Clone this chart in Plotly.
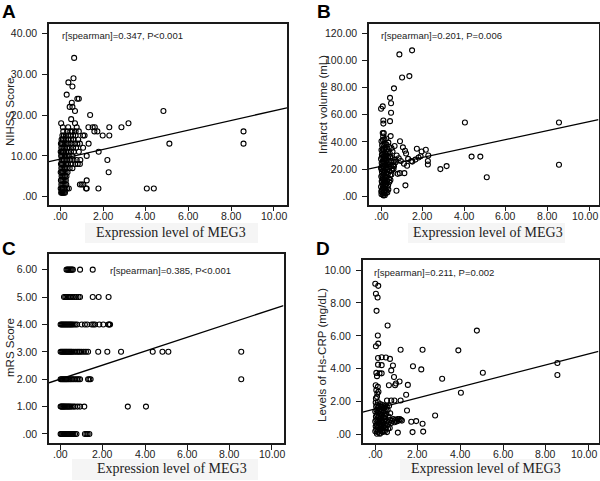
import plotly.graph_objects as go

# ---------------- Panel A: NIHSS score vs MEG3 ----------------
A_levels = [1, 2, 3, 4, 5, 6, 7, 8, 9, 10, 11, 12, 13, 14, 15, 16, 17, 18, 19, 20, 21, 22, 23, 24, 25, 27, 28, 29, 34]
A_expr = [
    [0.02, 0.06, 0.1, 0.15, 0.2],
    [0.0, 0.05, 0.1, 0.16, 0.22, 0.3, 0.38, 1.19, 1.22, 1.77, 4.04, 4.37],
    [0.03, 0.08, 0.13, 0.19, 0.26, 0.9, 0.98, 1.06],
    [0.01, 0.07, 0.12, 0.18, 0.24, 1.22],
    [0.04, 0.09, 0.14, 0.2, 0.27],
    [0.0, 0.06, 0.11, 0.17, 0.23, 0.32, 2.25],
    [0.03, 0.08, 0.14, 0.2, 0.28, 0.42, 0.55],
    [0.01, 0.06, 0.12, 0.18, 0.25, 0.34, 0.5, 0.68, 0.8, 0.9],
    [0.04, 0.09, 0.15, 0.22, 0.3, 0.45, 0.6, 0.75, 0.92, 2.19],
    [0.02, 0.07, 0.13, 0.2, 0.28, 0.38, 0.55, 1.22],
    [0.0, 0.05, 0.1, 0.16, 0.24, 0.33, 0.48, 0.62, 0.85, 1.78],
    [0.03, 0.08, 0.14, 0.21, 0.3, 0.42, 0.58, 0.72, 1.05],
    [0.01, 0.06, 0.12, 0.19, 0.27, 0.36, 0.5, 0.65, 0.78, 0.9, 1.31, 5.1, 8.58],
    [0.04, 0.1, 0.17, 0.25, 0.35, 0.48, 0.6, 0.82],
    [0.08, 0.15, 0.24, 0.34, 0.46, 0.58, 0.7, 1.05, 1.12, 1.97, 2.28],
    [0.12, 0.3, 0.45, 0.55, 0.7, 0.85, 1.58, 1.72, 8.58],
    [0.1, 0.35, 0.75, 1.3, 1.5, 1.6, 2.28, 2.85],
    [0.02, 0.67, 3.18],
    [0.49],
    [1.38],
    [0.67, 4.82],
    [0.42, 0.55],
    [0.52],
    [0.78, 0.85],
    [0.28],
    [0.55],
    [0.36],
    [0.6],
    [0.63],
]
A_fit = (9.25, 1.18)  # intercept, slope
A_text = "r[spearman]=0.347, P<0.001"

# ---------------- Panel B: Infarct volume vs MEG3 ----------------
B_x = [0.02, 0.06, 0.1, 0.14, 0.18, 0.22, 0.26, 0.04, 0.09, 0.15,
       0.0, 0.2, 0.28, 0.07, 0.12, 0.17, 0.24, 0.34, 0.03, 0.09,
       0.15, 0.21, 0.29, 0.38, 0.01, 0.06, 0.12, 0.18, 0.25, 0.33,
       0.44, 0.04, 0.1, 0.16, 0.22, 0.3, 0.4, 0.52, 0.0, 0.07,
       0.13, 0.19, 0.27, 0.36, 0.47, 0.58, 0.03, 0.09, 0.15, 0.21,
       0.28, 0.37, 0.48, 0.6, 0.0, 0.06, 0.12, 0.18, 0.25, 0.33,
       0.43, 0.55, 0.04, 0.1, 0.17, 0.24, 0.32, 0.42, 0.02, 0.08,
       0.14, 0.2, 0.28, 0.38, 0.5, 0.05, 0.11, 0.18, 0.26, 0.35,
       0.02, 0.09, 0.16, 0.25, 0.08, 0.13, 0.1, 0.01, 0.11, 0.05,
       0.2, 0.08, 0.14, 0.02, 0.23, 0.31, 0.11, 0.16, 0.21, 0.07,
       0.3, 0.35, 0.4, 0.45, 0.5, 0.55, 0.62, 0.68, 0.12, 0.19,
       1.49, 0.88, 1.01, 1.36, 0.62, 0.43, 0.48, 0.08, 0.0, 0.48,
       0.11, 0.11, 0.43, 4.03, 8.55, 8.55, 5.08, 4.77, 4.35, 3.15,
       2.85, 2.25, 2.25, 2.15, 2.27, 1.72, 1.95, 1.8, 1.65, 1.45,
       1.3, 1.5, 0.91, 1.2, 1.12, 1.17, 0.74, 0.8, 0.9, 0.46,
       1.9, 1.15, 1.05, 0.95, 1.1, 1.25, 0.75, 0.7, 0.65, 0.6,
       0.55, 0.85]
B_y = [1.5, 2.5, 1.0, 3.0, 0.8, 2.2, 4.0, 4.5, 5.5, 6.0,
       7.0, 7.5, 6.5, 8.5, 9.5, 10.0, 9.0, 8.0, 11.0, 12.5,
       12.0, 13.5, 11.5, 13.0, 14.5, 15.5, 16.0, 15.0, 17.0, 16.5,
       15.5, 18.0, 19.0, 18.5, 20.0, 19.5, 18.5, 19.0, 21.0, 22.0,
       21.5, 23.0, 22.5, 23.5, 22.0, 23.0, 24.5, 25.5, 26.0, 25.0,
       26.5, 25.5, 26.0, 25.5, 27.5, 28.5, 29.0, 28.0, 29.5, 28.5,
       29.0, 28.0, 30.5, 31.5, 32.0, 31.0, 32.5, 31.5, 34.0, 35.0,
       34.5, 36.0, 35.0, 36.5, 35.5, 37.5, 38.5, 39.0, 38.0, 39.5,
       40.5, 41.5, 42.0, 42.5, 46.5, 46.5, 44.0, 3.5, 6.8, 10.2,
       4.5, 13.8, 17.4, 19.8, 14.2, 21.2, 23.8, 27.2, 30.2, 32.8,
       2.8, 5.0, 10.5, 12.0, 16.0, 20.5, 22.0, 27.0, 0.5, 11.2,
       107.5, 104.5, 87.5, 88.5, 79.5, 72.5, 68.5, 66.2, 64.5, 61.5,
       55.8, 53.5, 55.3, 54.3, 54.3, 23.2, 14.0, 29.2, 29.2, 22.2,
       20.0, 23.4, 26.0, 34.2, 30.0, 35.0, 33.0, 28.5, 27.0, 26.0,
       27.5, 25.5, 40.5, 31.5, 17.0, 8.0, 4.0, 16.5, 17.0, 44.3,
       29.5, 33.5, 36.0, 26.0, 24.0, 22.5, 30.0, 25.0, 37.0, 20.0,
       33.0, 28.0]
B_fit = (22.1, 3.28)
B_text = "r[spearman]=0.201, P=0.006"

# ---------------- Panel C: mRS score vs MEG3 ----------------
C_levels = [0, 1, 2, 3, 4, 5, 6]
C_expr = [
    [0.0, 0.04, 0.08, 0.12, 0.16, 0.2, 0.25, 0.3, 0.35, 0.4, 0.45, 0.5, 0.55, 0.6, 0.68, 0.75, 1.15, 1.22, 1.28, 1.36],
    [0.0, 0.04, 0.08, 0.12, 0.16, 0.2, 0.25, 0.3, 0.35, 0.4, 0.45, 0.52, 0.6, 0.68, 0.8, 0.92, 1.12, 3.18, 4.04],
    [0.0, 0.05, 0.1, 0.15, 0.2, 0.25, 0.3, 0.36, 0.42, 0.48, 0.55, 0.62, 0.7, 0.78, 0.85, 0.92, 1.3, 1.36, 1.42, 8.55],
    [0.0, 0.05, 0.1, 0.15, 0.2, 0.25, 0.3, 0.35, 0.4, 0.45, 0.5, 0.55, 0.62, 0.7, 0.78, 0.85, 0.92, 1.0, 1.1, 1.2,
     1.3, 1.78, 2.21, 2.86, 4.36, 4.82, 5.1, 8.55],
    [0.0, 0.05, 0.1, 0.15, 0.2, 0.25, 0.3, 0.35, 0.4, 0.45, 0.5, 0.55, 0.62, 0.7, 0.78, 1.0, 1.15, 1.26, 1.47, 1.55,
     1.63, 1.83, 2.02, 2.26, 2.3, 2.34],
    [0.16, 0.22, 0.28, 0.35, 0.42, 0.5, 0.58, 0.66, 0.75, 0.85, 0.92, 1.52, 1.8, 2.27],
    [0.28, 0.33, 0.38, 0.43, 0.48, 0.53, 0.58, 0.92, 1.52],
]
C_fit = (2.01, 0.254)
C_text = "r[spearman]=0.385, P<0.001"

# ---------------- Panel D: Hs-CRP vs MEG3 ----------------
D_x = [0.0, 0.14, 0.03, 0.11, 0.06, 0.58, 4.77, 0.12, 0.14, 0.03,
       1.19, 2.22, 3.9, 5.05, 3.14, 8.55, 8.55, 4.02, 2.81, 1.77,
       2.16, 1.53, 1.45, 1.49, 1.69, 1.92, 2.22, 1.75, 2.25, 1.06,
       0.13, 0.3, 0.5, 0.69, 0.13, 0.3, 0.83, 0.75, 0.05, 0.2,
       0.3, 0.08, 0.88, 0.64, 0.93, 0.97, 1.14, 0.55, 0.75, 0.9,
       1.19, 0.02, 0.05, 0.1, 0.08, 0.03, 0.12, 0.15,
       0.0, 0.05, 0.1, 0.15, 0.2, 0.25, 0.3, 0.35, 0.4, 0.02,
       0.07, 0.12, 0.18, 0.23, 0.28, 0.33, 0.38, 0.45, 0.5, 0.0,
       0.05, 0.1, 0.15, 0.2, 0.25, 0.3, 0.36, 0.42, 0.48, 0.55,
       0.03, 0.08, 0.13, 0.18, 0.23, 0.28, 0.33, 0.4, 0.46, 0.52,
       0.0, 0.06, 0.11, 0.16, 0.21, 0.26, 0.31, 0.37, 0.43, 0.5,
       0.04, 0.09, 0.14, 0.19, 0.24, 0.29, 0.35, 0.41, 0.47, 0.54,
       0.6, 0.65, 0.7, 0.75, 0.8, 0.85, 0.9, 0.95, 1.0, 1.05,
       1.1, 1.15, 1.2, 1.25, 0.62, 0.7, 0.58, 0.65, 0.02, 0.12,
       0.08, 0.22, 0.32, 0.45, 0.55, 0.6, 0.68, 0.17, 0.27, 0.38]
D_y = [9.17, 9.04, 8.56, 8.33, 7.52, 6.63, 6.32, 6.02, 5.53, 5.37,
       5.16, 5.16, 5.12, 3.76, 3.39, 4.35, 3.62, 2.54, 1.16, 4.15,
       3.96, 3.02, 2.42, 1.46, 0.78, 0.82, 0.66, 0.15, 0.18, 0.12,
       4.65, 4.7, 4.68, 4.6, 4.25, 4.22, 4.2, 3.9, 3.75, 3.72,
       3.72, 3.55, 3.5, 3.0, 3.0, 3.1, 3.23, 2.07, 2.07, 2.07,
       2.07, 3.0, 2.7, 2.5, 2.3, 2.2, 2.9, 2.6,
       0.2, 0.3, 0.15, 0.25, 0.1, 0.3, 0.2, 0.15, 0.25, 0.5,
       0.6, 0.45, 0.55, 0.65, 0.5, 0.6, 0.45, 0.55, 0.4, 0.8,
       0.9, 0.75, 0.85, 0.95, 0.8, 0.9, 0.75, 0.85, 0.95, 0.8,
       1.1, 1.2, 1.05, 1.15, 1.25, 1.1, 1.2, 1.05, 1.15, 1.25,
       1.4, 1.5, 1.35, 1.45, 1.55, 1.4, 1.5, 1.35, 1.45, 1.55,
       1.7, 1.8, 1.65, 1.75, 1.85, 1.7, 1.8, 1.65, 1.75, 1.7,
       0.6, 0.75, 0.9, 0.7, 0.85, 0.95, 0.75, 0.9, 0.8, 0.95,
       0.85, 0.95, 0.9, 0.85, 1.1, 1.3, 1.5, 1.75, 1.95, 1.98,
       0.05, 0.05, 0.35, 0.2, 0.15, 0.35, 0.4, 0.7, 1.0, 1.6]
D_fit = (1.56, 0.334)
D_text = "r[spearman]=0.211, P=0.002"

X_TICKS = [0, 2, 4, 6, 8, 10]
A_TICKS = [0, 10, 20, 30, 40]
B_TICKS = [0, 20, 40, 60, 80, 100, 120]
C_TICKS = [0, 1, 2, 3, 4, 5, 6]
D_TICKS = [0, 2, 4, 6, 8, 10]

X_TITLE = "Expression level of MEG3"


def flatten(levels, groups):
    xs, ys = [], []
    for lv, g in zip(levels, groups):
        for v in g:
            xs.append(v)
            ys.append(lv)
    return xs, ys


def fmt(v):
    s = f"{v:.2f}"
    return s[1:] if s.startswith("0") else s


A_x, A_y = flatten(A_levels, A_expr)
C_x, C_y = flatten(C_levels, C_expr)

W, H = 600, 481


def px(x):
    return x / W


def py(y):
    return 1 - y / H


panels = [
    dict(letter="A", x=A_x, y=A_y, fit=A_fit, text=A_text, yticks=A_TICKS, ytitle="NIHSS Score",
         box=(49, 287, 24, 204.5), xr=(-0.55, 10.62), yr=(-1.9, 42.3), edge_shift=0,
         letter_pos=(0, 11), text_pos=(60, 35), ytitle_pos=(10, 112), xtitle_pos=(171, 232.5),
         band=(85, 258, 223, 243)),
    dict(letter="B", x=B_x, y=B_y, fit=B_fit, text=B_text, yticks=B_TICKS, ytitle="Infarct volume (mL)",
         box=(369, 598.5, 24, 204.5), xr=(-0.58, 10.45), yr=(-6.1, 126.9), edge_shift=-4,
         letter_pos=(315, 11), text_pos=(379, 35), ytitle_pos=(323, 105), xtitle_pos=(488, 232.5),
         band=(408, 565, 223, 243)),
    dict(letter="C", x=C_x, y=C_y, fit=C_fit, text=C_text, yticks=C_TICKS, ytitle="mRS Score",
         box=(49, 283.5, 253.5, 443.3), xr=(-0.55, 10.55), yr=(-0.34, 6.59), edge_shift=0,
         letter_pos=(0, 248), text_pos=(108, 270), ytitle_pos=(10, 348), xtitle_pos=(172, 468.5),
         band=(72, 258, 459, 480)),
    dict(letter="D", x=D_x, y=D_y, fit=D_fit, text=D_text, yticks=D_TICKS, ytitle="Levels of Hs-CRP (mg/dL)",
         box=(362.7, 598.5, 260, 443.3), xr=(-0.59, 10.48), yr=(-0.53, 10.61), edge_shift=-4,
         letter_pos=(314, 248), text_pos=(372, 272), ytitle_pos=(322, 355), xtitle_pos=(486, 468.5),
         band=(400, 560, 459, 480)),
]

SANS = "Liberation Sans, Arial, sans-serif"
SERIF = "Liberation Serif, Times New Roman, serif"
INK = "#1a1a1a"
TICKFONT = dict(family=SANS, size=10.5, color="#222")

fig = go.Figure()
annotations = []
shapes = []
for i, p in enumerate(panels):
    sfx = "" if i == 0 else str(i + 1)
    xa, ya = "x" + sfx, "y" + sfx
    fig.add_trace(go.Scatter(
        x=p["x"], y=p["y"], mode="markers", xaxis=xa, yaxis=ya, showlegend=False, hoverinfo="skip",
        marker=dict(symbol="circle-open", size=5, color="black", line=dict(width=1.1)),
    ))
    b0, b1 = p["fit"]
    x0, x1 = p["xr"]
    fig.add_trace(go.Scatter(
        x=[x0, x1], y=[b0 + b1 * x0, b0 + b1 * x1], mode="lines", xaxis=xa, yaxis=ya,
        showlegend=False, hoverinfo="skip", line=dict(color="black", width=1.3),
    ))
    l, r, t, b = p["box"]
    axis_common = dict(showline=True, mirror=True, linecolor=INK, linewidth=1.6, ticks="outside",
                       ticklen=5, tickwidth=1, tickcolor=INK, showgrid=False, zeroline=False,
                       tickfont=TICKFONT)
    fig.layout["xaxis" + sfx] = dict(domain=[px(l), px(r)], range=list(p["xr"]), anchor=ya,
                                     tickvals=X_TICKS, showticklabels=False, **axis_common)
    fig.layout["yaxis" + sfx] = dict(domain=[py(b), py(t)], range=list(p["yr"]), anchor=xa,
                                     tickvals=p["yticks"], ticktext=[fmt(v) for v in p["yticks"]],
                                     ticklabelstandoff=3, **axis_common)
    # x tick labels placed on the axis scale, just under the frame
    for v in X_TICKS:
        shift = p["edge_shift"] if v == X_TICKS[-1] else 0
        annotations.append(dict(text=fmt(v), x=v, xref=xa, y=py(b + 11), yref="paper", xshift=shift,
                                xanchor="center", yanchor="middle", showarrow=False, font=TICKFONT))
    bx0, bx1, by0, by1 = p["band"]
    shapes.append(dict(type="rect", xref="paper", yref="paper", x0=px(bx0), x1=px(bx1),
                       y0=py(by1), y1=py(by0), fillcolor="#f5f5f5", line=dict(width=0), layer="below"))
    lx, ly = p["letter_pos"]
    annotations.append(dict(text="<b>%s</b>" % p["letter"], x=px(lx), y=py(ly), xref="paper", yref="paper",
                            xanchor="left", yanchor="middle", showarrow=False,
                            font=dict(family=SANS, size=19, color="black")))
    tx, ty = p["text_pos"]
    annotations.append(dict(text=p["text"], x=px(tx), y=py(ty), xref="paper", yref="paper",
                            xanchor="left", yanchor="middle", showarrow=False,
                            font=dict(family=SANS, size=9.5, color="#222")))
    yx, yy = p["ytitle_pos"]
    annotations.append(dict(text=p["ytitle"], x=px(yx), y=py(yy), xref="paper", yref="paper",
                            xanchor="center", yanchor="middle", showarrow=False, textangle=-90,
                            font=dict(family=SANS, size=11.5, color="#222")))
    xx, xy = p["xtitle_pos"]
    annotations.append(dict(text=X_TITLE, x=px(xx), y=py(xy), xref="paper", yref="paper",
                            xanchor="center", yanchor="middle", showarrow=False,
                            font=dict(family=SERIF, size=14, color="#222")))

fig.update_layout(width=W, height=H, margin=dict(l=0, r=0, t=0, b=0),
                  paper_bgcolor="white", plot_bgcolor="white", annotations=annotations,
                  shapes=shapes, showlegend=False)
fig.write_html("out.html", config={"displayModeBar": False},
               post_script="document.body.style.margin='0';document.body.style.padding='0';"
                           "document.documentElement.style.overflow='hidden';")
